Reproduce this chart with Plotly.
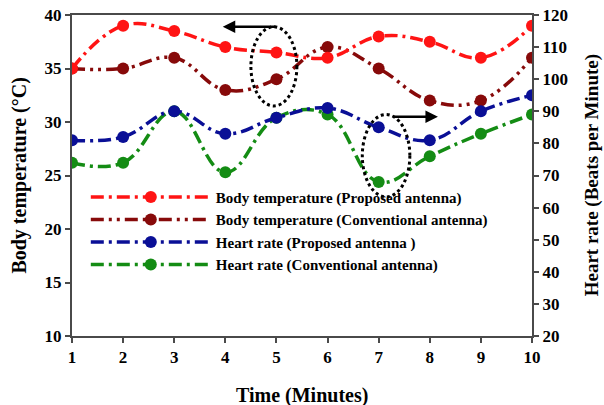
import plotly.graph_objects as go

minutes = [1, 2, 3, 4, 5, 6, 7, 8, 9, 10]

temp_proposed = [35, 39, 38.5, 37, 36.5, 36, 38, 37.5, 36, 39]
temp_conventional = [35, 35, 36, 33, 34, 37, 35, 32, 32, 36]
hr_proposed = [81, 82, 90, 83, 88, 91, 85, 81, 90, 95]
hr_conventional = [74, 74, 90, 71, 88, 89, 68, 76, 83, 89]

FONT = "Liberation Serif"

# (values, axis, legend label, colour, dash pattern, legend position)
# listed bottom-most layer first so the proposed-antenna curves sit on top
series = [
    (hr_conventional, "y2", "Heart rate (Conventional antenna)", "#148c14", "13px,5px,3px,5px", 4),
    (hr_proposed, "y2", "Heart rate (Proposed antenna )", "#0a0f96", "13px,5px,3px,5px", 3),
    (temp_conventional, "y", "Body temperature (Conventional antenna)", "#870a0a", "13px,5px,3px,5px,3px,5px", 2),
    (temp_proposed, "y", "Body temperature (Proposed antenna)", "#ff1414", "13px,5px,3px,5px", 1),
]

fig = go.Figure()
for vals, yax, name, col, dsh, rank in series:
    fig.add_trace(go.Scatter(
        x=minutes, y=vals, name=f"<b>{name}</b>", yaxis=yax, legendrank=rank,
        mode="lines+markers",
        line=dict(color=col, width=3.5, dash=dsh, shape="spline", smoothing=1.2),
        marker=dict(color=col, size=12),
    ))

axis_common = dict(
    showline=True, linecolor="#4a4a4a", linewidth=2,
    ticks="outside", ticklen=5, tickcolor="#4a4a4a", tickwidth=2,
    showgrid=False, zeroline=False, automargin=False,
    tickfont=dict(family=FONT, size=17, color="black", weight="bold"),
)
title_font = dict(family=FONT, size=20, color="black")

fig.update_layout(
    width=604, height=405,
    margin=dict(l=72, r=72, t=15, b=69),
    paper_bgcolor="white", plot_bgcolor="white",
    font=dict(family=FONT, color="black"),
    xaxis=dict(range=[1, 10], tickvals=minutes, mirror=True, **axis_common),
    yaxis=dict(range=[10, 40], dtick=5, **axis_common),
    yaxis2=dict(range=[20, 120], dtick=10, overlaying="y", side="right", **axis_common),
    legend=dict(
        x=0.03, y=0.484, xanchor="left", yanchor="top",
        bgcolor="rgba(0,0,0,0)", borderwidth=0,
        font=dict(family=FONT, size=15, color="black", weight="bold"),
        itemwidth=120, traceorder="normal",
    ),
    showlegend=True,
)

# axis titles
fig.add_annotation(text="<b>Time (Minutes)</b>", xref="paper", yref="paper", x=0.5, y=-0.184,
                   showarrow=False, font=title_font, xanchor="center", yanchor="middle")
fig.add_annotation(text="<b>Body temperature (°C)</b>", xref="paper", yref="paper", x=-0.115, y=0.5,
                   showarrow=False, font=title_font, textangle=-90, xanchor="center", yanchor="middle")
fig.add_annotation(text="<b>Heart rate (Beats per Minute)</b>", xref="paper", yref="paper", x=1.13, y=0.5,
                   showarrow=False, font=dict(family=FONT, size=19, color="black"),
                   textangle=-90, xanchor="center", yanchor="middle")

# dotted rings around the minute 5 temperature pair and minute 7 heart-rate pair
fig.add_shape(type="circle", xref="x", yref="y", x0=4.5, x1=5.4, y0=31.5, y1=38.9,
              line=dict(color="black", width=3, dash="dot"))
fig.add_shape(type="circle", xref="x", yref="y", x0=6.68, x1=7.61, y0=23.0, y1=30.7,
              line=dict(color="black", width=3, dash="dot"))

# arrows pointing to the axis each ringed pair is read against
fig.add_annotation(x=3.95, y=38.9, ax=5.01, ay=38.9, xref="x", yref="y", axref="x", ayref="y",
                   text="", showarrow=True, arrowhead=2, arrowsize=1, arrowwidth=2.5, arrowcolor="black")
fig.add_annotation(x=8.16, y=30.5, ax=7.26, ay=30.5, xref="x", yref="y", axref="x", ayref="y",
                   text="", showarrow=True, arrowhead=2, arrowsize=1, arrowwidth=2.5, arrowcolor="black")

fig.write_html("out.html")
